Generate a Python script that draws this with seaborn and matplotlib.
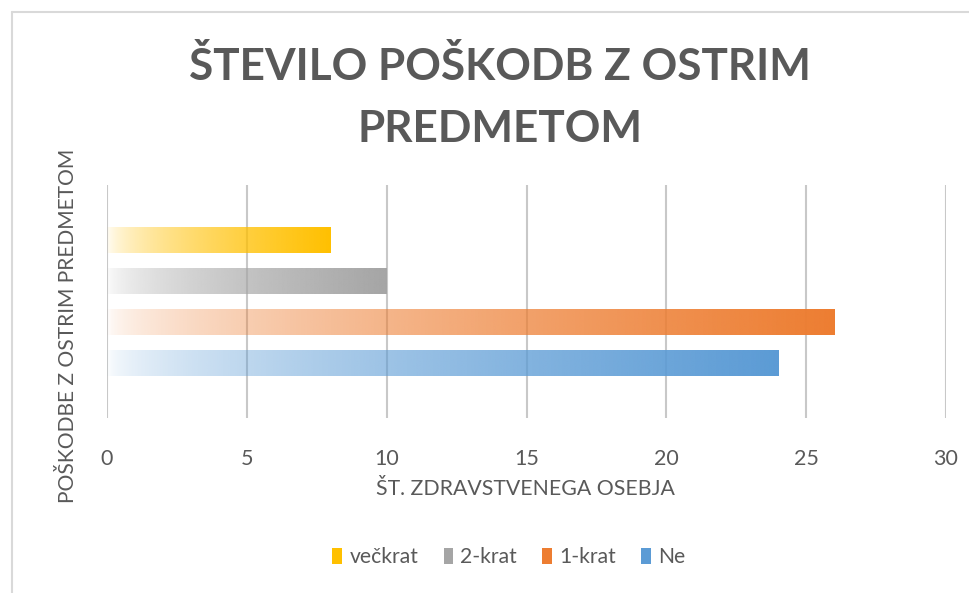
import numpy as np
import pandas as pd
import seaborn as sns
import matplotlib
matplotlib.use("Agg")
import matplotlib.pyplot as plt
from matplotlib.patches import Rectangle
from matplotlib.lines import Line2D
from matplotlib.colors import to_rgb

# ---- data ----
categories = ["večkrat", "2-krat", "1-krat", "Ne"]
values = [8, 10, 26, 24]
colors = ["#FFC000", "#A5A5A5", "#ED7D31", "#5B9BD5"]
x_ticks = [0, 5, 10, 15, 20, 25, 30]
title_lines = ["ŠTEVILO POŠKODB Z OSTRIM", "PREDMETOM"]
x_label = "ŠT. ZDRAVSTVENEGA OSEBJA"
y_label = "POŠKODBE Z OSTRIM PREDMETOM"

sns.set_theme(style="white")
plt.rcParams['font.family'] = ['Lato', 'DejaVu Sans']

TXT = "#595959"
GRID = "#C8C8C8"

fig = plt.figure(figsize=(9.7, 5.93), dpi=100)
ax = fig.add_axes([107 / 970, 1 - 418 / 593, (946 - 107) / 970, (418 - 185) / 593])

df = pd.DataFrame({"series": categories, "value": values})
sns.barplot(data=df, x="value", y="series", hue="series", order=categories,
            hue_order=categories, palette=colors, width=0.61, dodge=False,
            legend=False, ax=ax)

# gradient fill for each bar (transparent white on the left -> full colour on right)
for patch, col in zip(list(ax.patches), colors):
    x0, y0 = patch.get_xy()
    w, h = patch.get_width(), patch.get_height()
    if w <= 0:
        continue
    n = 256
    t = np.linspace(0, 1, n)
    img = np.zeros((1, n, 4))
    img[..., :3] = to_rgb(col)
    img[0, :, 3] = 0.02 + 0.98 * t ** 0.6
    ax.imshow(img, extent=(x0, x0 + w, y0 + h, y0), aspect="auto",
              interpolation="bilinear", zorder=3)
    patch.set_visible(False)

ax.set_xlim(0, 30)
ax.set_ylim(4.32, -1.34)
ax.set_xticks(x_ticks)
ax.set_xticklabels([str(v) for v in x_ticks])
ax.set_yticks([])
ax.set_ylabel("")
ax.set_xlabel("")
ax.grid(axis="x", color=GRID, linewidth=1.5)
ax.set_axisbelow(True)
for s in ax.spines.values():
    s.set_visible(False)
ax.tick_params(axis="x", length=0, pad=22, labelsize=15.5, labelcolor=TXT)

# axis titles
fig.text(525 / 970, 1 - 489 / 593, x_label, ha="center", va="center",
         fontsize=15.3, color=TXT)
fig.text(68 / 970, 1 - 326 / 593, y_label, ha="center", va="center",
         rotation=90, fontsize=15.1, color=TXT)

# chart title
fig.text(500 / 970, 1 - 80 / 593, title_lines[0], ha="center", va="baseline",
         fontsize=31.8, fontweight="bold", color=TXT)
fig.text(500 / 970, 1 - 142 / 593, title_lines[1], ha="center", va="baseline",
         fontsize=31.8, fontweight="bold", color=TXT)

# legend
handles = [Rectangle((0, 0), 1, 1, facecolor=c, edgecolor="none") for c in colors]
fig.legend(handles, categories, loc="center", bbox_to_anchor=(509 / 970, 1 - 557 / 593),
           ncol=4, frameon=False, fontsize=15.2, labelcolor=TXT,
           handlelength=0.45, handleheight=0.8, handletextpad=0.35,
           columnspacing=1.2)

# chart frame (left and top edges)
fig.add_artist(Line2D([12 / 970, 12 / 970], [0, 1 - 12 / 593], transform=fig.transFigure,
                      color="#D9D9D9", linewidth=1.5))
fig.add_artist(Line2D([12 / 970, 1], [1 - 12 / 593, 1 - 12 / 593], transform=fig.transFigure,
                      color="#D9D9D9", linewidth=1.5))

fig.savefig("out.png", dpi=100, facecolor="white")
